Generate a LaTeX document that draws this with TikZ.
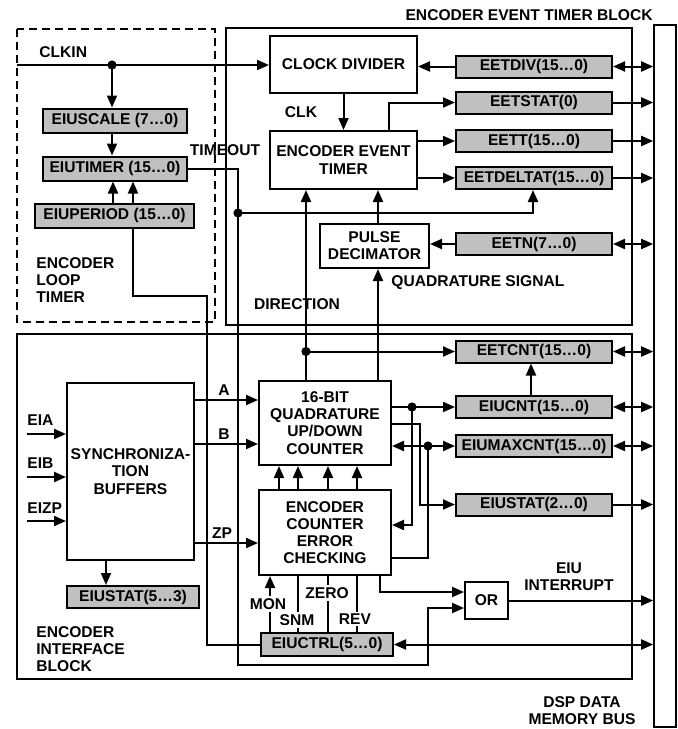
\documentclass[tikz,border=0pt]{standalone}
\usepackage{fontspec}
\setmainfont{Liberation Sans}
\usepackage{tikz}
\usetikzlibrary{arrows.meta}
\usepackage{xcolor}
\definecolor{regfill}{RGB}{192,192,192}
\tikzset{
  blk/.style={rectangle, draw, line width=1pt, fill=white, align=center, inner sep=1pt},
  reg/.style={rectangle, draw, line width=1pt, fill=regfill, minimum height=11pt, inner sep=0pt},
  regR/.style={reg, minimum width=78pt},
  grp/.style={draw, line width=0.6pt},
  lbl/.style={inner sep=0pt, align=left},
  tag/.style={inner sep=1pt, fill=white},
  sig/.style={line width=1pt},
  arr/.style={sig, -{Triangle[length=6pt,width=5pt]}},
  darr/.style={sig, {Triangle[length=6pt,width=5pt]}-{Triangle[length=6pt,width=5pt]}},
}
\begin{document}
\begin{tikzpicture}[x=0.5pt, y=-0.5pt, font=\bfseries\fontsize{7.8}{8.6}\selectfont]
\useasboundingbox (0,0) rectangle (678,729);
\draw[grp, line width=1pt, dash pattern=on 4pt off 2.5pt] (17,29) rectangle (215,322);
\draw[grp] (226,28) rectangle (632,325);
\draw[grp] (17,334) rectangle (632,679);
\node[draw, line width=0.8pt, minimum width=11pt, minimum height=351pt, inner sep=0pt] (bus) at (665,376) {};

\node[blk, minimum width=73.5pt, minimum height=28.5pt] (clkdiv) at (343.5,64.5) {CLOCK DIVIDER};
\node[blk, minimum width=73.5pt, minimum height=29pt] (eet) at (343.5,160) {ENCODER EVENT\\TIMER};
\node[blk, minimum width=54.5pt, minimum height=22pt] (pulsedec) at (374.5,246) {PULSE\\DECIMATOR};
\node[regR] (eetdiv) at (534,66.5) {EETDIV(15…0)};
\node[regR] (eetstat) at (534,102.5) {EETSTAT(0)};
\node[regR] (eett) at (534,141) {EETT(15…0)};
\node[regR] (eetdelta) at (534,178) {EETDELTAT(15…0)};
\node[regR] (eetn) at (534,244) {EETN(7…0)};
\node[reg, minimum width=72pt, minimum height=12pt] (eiuscale) at (115,120.5) {EIUSCALE (7…0)};
\node[reg, minimum width=72pt, minimum height=12pt] (eiutimer) at (115,168.5) {EIUTIMER (15…0)};
\node[reg, minimum width=79.5pt, minimum height=12pt] (eiuperiod) at (114.5,215.5) {EIUPERIOD (15…0)};

\node[blk, minimum width=63.5pt, minimum height=88.5pt] (sync) at (130.5,471.5) {SYNCHRONIZA-\\TION\\BUFFERS};
\node[reg, minimum width=66pt] (eiustatlo) at (133,597) {EIUSTAT(5…3)};
\node[blk, minimum width=66pt, minimum height=42pt] (counter) at (325,423) {16-BIT\\QUADRATURE\\UP/DOWN\\COUNTER};
\node[blk, minimum width=66pt, minimum height=42.5pt] (errchk) at (325,532.5) {ENCODER\\COUNTER\\ERROR\\CHECKING};
\node[reg, minimum width=66pt, minimum height=11.5pt] (eiuctrl) at (327,644.5) {EIUCTRL(5…0)};
\node[blk, minimum width=21.5pt, minimum height=18.5pt] (orgate) at (486.5,600.5) {OR};
\node[regR] (eetcnt) at (534,351.5) {EETCNT(15…0)};
\node[regR] (eiucnt) at (534,407) {EIUCNT(15…0)};
\node[regR] (eiumax) at (534,446) {EIUMAXCNT(15…0)};
\node[regR] (eiustathi) at (534,504.5) {EIUSTAT(2…0)};

\coordinate (clkin) at (17,65);
\coordinate (clkdot) at (112,65);
\coordinate (tdot) at (238,213);
\coordinate (dirdot) at (306,351.5);
\coordinate (cntdot) at (412,407);
\coordinate (maxdot) at (428,446);
\coordinate (eia) at (27,434);
\coordinate (eib) at (27,477);
\coordinate (eizp) at (27,521);

\draw[arr] (clkin) -- (clkin -| clkdiv.west);
\draw[arr] (clkdot) -- (clkdot |- eiuscale.north);
\draw[arr] (eiuscale.south -| clkdot) -- (eiutimer.north -| clkdot);
\draw[arr] (eiuperiod.north -| 113,0) -- (eiutimer.south -| 113,0);
\draw[arr] (eiuperiod.north -| 133,0) -- (eiutimer.south -| 133,0);
\draw[sig] (eiuperiod.south -| 133,0) |- (207,296) |- (eiuctrl.west);
\draw[arr] (eiutimer.east) -| (238,665) -| (428,608) -- (orgate.west |- 0,608);
\draw[arr] (tdot) -| (eetdelta.south -| 533,0);
\draw[arr] (clkdiv.south) -- (eet.north);
\draw[arr] (counter.north -| dirdot) -- (eet.south -| dirdot);
\draw[arr] (dirdot) -- (dirdot -| eetcnt.west);
\draw[arr] (counter.north -| 378,0) -- (pulsedec.south -| 378,0);
\draw[arr] (pulsedec.north -| 378,0) -- (eet.south -| 378,0);
\draw[arr] (eetdiv.west) -- (eetdiv.west -| clkdiv.east);
\draw[arr] (eet.north -| 389,0) |- (eetstat.west);
\draw[arr] (eet.east |- eett.west) -- (eett.west);
\draw[arr] (eet.east |- eetdelta.west) -- (eetdelta.west);
\draw[arr] (eetn.west) -- (eetn.west -| pulsedec.east);

\foreach \r in {eetdiv,eetn,eetcnt,eiucnt,eiumax}
  \draw[darr] (\r.east) -- (\r.east -| bus.west);
\foreach \r in {eetstat,eett,eetdelta,eiustathi,orgate}
  \draw[arr] (\r.east) -- (\r.east -| bus.west);
\draw[darr] (eiuctrl.east) -- (eiuctrl.east -| bus.west);

\foreach \p in {eia,eib,eizp}
  \draw[arr] (\p) -- (\p -| sync.west);
\draw[arr] (sync.east |- 0,400) -- (counter.west |- 0,400);
\draw[arr] (sync.east |- 0,444) -- (counter.west |- 0,444);
\draw[arr] (sync.east |- 0,543) -- (errchk.west |- 0,543);
\draw[arr] (sync.south -| 106,0) -- (eiustatlo.north -| 106,0);
\foreach \x in {279,298,328,357}
  \draw[arr] (errchk.north -| \x,0) -- (counter.south -| \x,0);
\draw[arr] (eiuctrl.north -| 270,0) -- (errchk.south -| 270,0);
\foreach \x in {298,328,357}
  \draw[sig] (errchk.south -| \x,0) -- (eiuctrl.north -| \x,0);
\draw[arr] (errchk.south -| 380,0) |- (orgate.west |- 0,592);
\draw[arr] (counter.east |- eiucnt.west) -- (eiucnt.west);
\draw[arr] (cntdot) |- (errchk.east |- 0,525);
\draw[darr] (counter.east |- eiumax.west) -- (eiumax.west);
\draw[sig] (maxdot) |- (errchk.east |- 0,558);
\draw[arr] (counter.east |- 0,424) -| (420,504.5) -- (eiustathi.west);
\draw[arr] (eiucnt.north -| 531,0) -- (eetcnt.south -| 531,0);
\foreach \d in {clkdot,tdot,dirdot,cntdot,maxdot}
  \fill (\d) circle (2.3pt);

\node[lbl, anchor=east] (ttl) at (653,15) {ENCODER EVENT TIMER BLOCK};
\node[lbl, anchor=west] (lclkin) at (39,52) {CLKIN};
\node[lbl] (lclk) at (301,112) {CLK};
\node[lbl] (ltimeout) at (225,150) {TIMEOUT};
\node[lbl, anchor=west] (lloop) at (36,280) {ENCODER\\LOOP\\TIMER};
\node[lbl] (ldir) at (297,304) {DIRECTION};
\node[lbl, anchor=west] (lquad) at (391,283) {QUADRATURE SIGNAL};
\node[lbl, anchor=west] (leia) at (27,420) {EIA};
\node[lbl, anchor=west] (leib) at (27,463) {EIB};
\node[lbl, anchor=west] (leizp) at (27,508) {EIZP};
\node[lbl] (la) at (224,390) {A};
\node[lbl] (lb) at (224,434) {B};
\node[lbl] (lzp) at (222,533) {ZP};
\node[lbl, anchor=west] (leib2) at (36,649) {ENCODER\\INTERFACE\\BLOCK};
\node[tag] (lmon) at (268,604) {MON};
\node[tag] (lsnm) at (297,620) {SNM};
\node[tag] (lzero) at (327,593) {ZERO};
\node[tag] (lrev) at (355,619) {REV};
\node[lbl, align=center] (lint) at (569,577) {EIU\\INTERRUPT};
\node[lbl, align=center] (lbus) at (582,711) {DSP DATA\\MEMORY BUS};
\end{tikzpicture}
\end{document}
